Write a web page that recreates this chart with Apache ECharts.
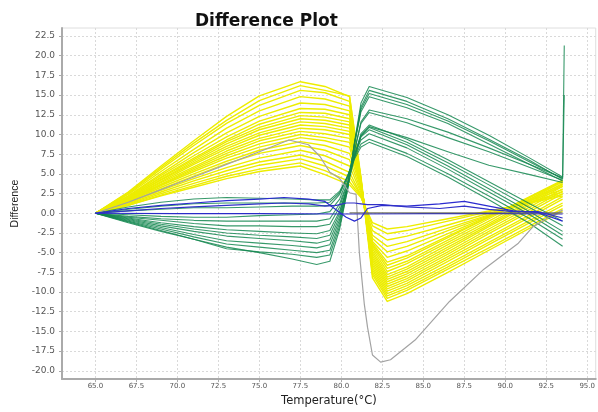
<!DOCTYPE html>
<html><head><meta charset="utf-8">
<script src="https://cdn.jsdelivr.net/npm/echarts@6/dist/echarts.min.js"></script>
<style>html,body{margin:0;padding:0;background:#fff}#c{width:598px;height:412px}</style>
</head><body><div id="c"></div>
<script>
// ---- tick labels ----
const xTicks = [65, 67.5, 70, 72.5, 75, 77.5, 80, 82.5, 85, 87.5, 90, 92.5, 95];
const yTicks = [-20, -17.5, -15, -12.5, -10, -7.5, -5, -2.5, 0, 2.5, 5, 7.5, 10, 12.5, 15, 17.5, 20, 22.5];

// ---- yellow curves (temperature grid + values) ----
const tempsY = [65, 67, 69, 71, 73, 75, 77.5, 79, 80.5, 81.2, 81.9, 82.8, 84, 86.5, 89, 91.5, 93.5];
const y01 = [0, 2.7, 6.0, 9.2, 12.3, 14.9, 16.7, 16.1, 14.8, 4.3, -8.2, -11.2, -10.2, -7.5, -4.7, -1.9, 0.3];
const y02 = [0, 2.6, 5.8, 8.9, 11.8, 14.3, 16.2, 15.6, 14.9, 4.6, -7.8, -10.8, -9.8, -7.1, -4.4, -1.6, 0.6];
const y03 = [0, 2.5, 5.6, 8.6, 11.4, 13.7, 15.6, 15.3, 14.2, 4.4, -7.5, -10.5, -9.5, -6.8, -4.0, -1.2, 1.0];
const y04 = [0, 2.4, 5.3, 8.1, 10.8, 13.0, 14.8, 14.5, 13.6, 4.2, -7.2, -10.2, -9.2, -6.5, -3.7, -0.9, 1.3];
const y05 = [0, 2.2, 5.0, 7.7, 10.2, 12.3, 14.0, 13.8, 13.0, 4.1, -6.9, -9.9, -8.9, -6.1, -3.3, -0.5, 1.8];
const y06 = [0, 2.1, 4.8, 7.3, 9.7, 11.7, 13.3, 13.2, 12.5, 4.0, -6.6, -9.6, -8.6, -5.8, -3.0, -0.2, 2.1];
const y07 = [0, 2.0, 4.6, 7.0, 9.3, 11.3, 12.8, 12.7, 12.0, 3.9, -6.3, -9.3, -8.3, -5.5, -2.6, 0.2, 2.5];
const y08 = [0, 2.0, 4.5, 6.8, 9.1, 10.9, 12.4, 12.2, 11.6, 3.8, -6.0, -9.0, -8.0, -5.2, -2.3, 0.5, 2.8];
const y09 = [0, 1.9, 4.3, 6.6, 8.8, 10.6, 12.0, 11.8, 11.2, 3.8, -5.7, -8.7, -7.7, -4.9, -2.0, 0.8, 3.1];
const y10 = [0, 1.9, 4.2, 6.4, 8.5, 10.2, 11.6, 11.4, 10.8, 3.7, -5.4, -8.4, -7.4, -4.6, -1.7, 1.1, 3.4];
const y11 = [0, 1.8, 4.0, 6.2, 8.2, 9.9, 11.2, 11.0, 10.4, 3.7, -5.1, -8.1, -7.1, -4.3, -1.5, 1.3, 3.6];
const y12 = [0, 1.7, 3.9, 5.9, 7.9, 9.5, 10.8, 10.6, 10.0, 3.6, -4.8, -7.8, -6.8, -4.0, -1.3, 1.5, 3.8];
const y13 = [0, 1.7, 3.7, 5.7, 7.6, 9.2, 10.4, 10.1, 9.5, 3.5, -4.5, -7.4, -6.4, -3.7, -1.0, 1.8, 4.0];
const y14 = [0, 1.6, 3.6, 5.5, 7.3, 8.8, 10.0, 9.6, 9.0, 3.5, -4.2, -7.0, -6.1, -3.4, -0.7, 2.0, 4.1];
const y15 = [0, 1.5, 3.5, 5.3, 7.0, 8.4, 9.6, 9.2, 8.4, 3.4, -4.0, -6.6, -5.7, -3.1, -0.5, 2.1, 4.2];
const y16 = [0, 1.5, 3.3, 5.0, 6.6, 8.0, 9.1, 8.6, 7.6, 3.2, -3.8, -6.2, -5.4, -2.9, -0.5, 2.0, 4.0];
const y17 = [0, 1.4, 3.1, 4.7, 6.3, 7.6, 8.6, 8.0, 6.8, 2.9, -3.6, -5.6, -4.8, -2.6, -0.4, 1.8, 3.7];
const y18 = [0, 1.3, 2.9, 4.4, 5.8, 7.0, 8.0, 7.3, 6.0, 2.6, -3.2, -4.9, -4.2, -2.2, -0.3, 1.7, 3.4];
const y19 = [0, 1.2, 2.7, 4.1, 5.4, 6.5, 7.4, 6.6, 5.2, 2.3, -2.8, -4.2, -3.6, -1.9, -0.2, 1.6, 3.0];
const y20 = [0, 1.1, 2.5, 3.8, 5.0, 6.1, 6.9, 6.0, 4.6, 2.2, -2.2, -3.4, -2.9, -1.5, 0.0, 1.4, 2.7];
const y21 = [0, 1.0, 2.3, 3.5, 4.7, 5.6, 6.4, 5.4, 4.0, 2.1, -1.6, -2.6, -2.2, -1.0, 0.2, 1.4, 2.4];
const y22 = [0, 1.0, 2.2, 3.3, 4.4, 5.3, 6.0, 4.9, 3.6, 2.0, -1.2, -2.0, -1.7, -0.7, 0.3, 1.3, 2.2];

// ---- green curves ----
const tempsG = [65, 67, 69, 71, 73, 75, 77, 78.5, 79.3, 79.9, 80.4, 80.8, 81.2, 81.7, 84, 86.5, 89, 91.5, 93.5];
const tempsGSpike = [65, 67, 69, 71, 73, 75, 77, 78.5, 79.3, 79.9, 80.4, 80.8, 81.2, 81.7, 84, 86.5, 89, 91.5, 93.5, 93.6];
const g01 = [0, -1.2, -2.3, -3.3, -4.3, -5.0, -5.8, -6.5, -6.1, -2.0, 3.2, 9.0, 14.0, 16.1, 14.7, 12.5, 9.9, 7.0, 4.6, 21.3];
const g02 = [0, -1.1, -2.2, -3.3, -4.5, -4.9, -5.2, -5.6, -5.3, -1.6, 3.2, 8.8, 13.5, 15.6, 14.2, 12.0, 9.4, 6.7, 4.3];
const g03 = [0, -1.0, -2.0, -3.0, -3.9, -4.3, -4.7, -5.0, -4.7, -1.2, 3.4, 8.8, 13.2, 15.2, 13.8, 11.7, 9.2, 6.5, 4.4, 15.0];
const g04 = [0, -0.9, -1.8, -2.7, -3.5, -3.8, -4.1, -4.4, -4.0, -0.8, 3.6, 8.7, 12.9, 14.8, 13.4, 11.4, 8.8, 6.2, 4.1];
const g05 = [0, -0.8, -1.6, -2.3, -2.9, -3.2, -3.5, -3.8, -3.4, -0.4, 3.5, 7.9, 11.6, 13.1, 12.0, 10.3, 8.3, 6.2, 4.5];
const g06 = [0, -0.7, -1.4, -2.0, -2.5, -2.8, -3.0, -3.2, -2.8, 0.0, 3.7, 7.9, 11.4, 12.8, 11.5, 9.6, 7.8, 5.8, 4.2];
const g07 = [0, -0.6, -1.2, -1.7, -2.1, -2.3, -2.5, -2.6, -2.2, 0.3, 3.5, 7.0, 9.8, 11.0, 9.6, 7.8, 6.1, 4.9, 3.9];
const g08 = [0, -0.5, -0.9, -1.3, -1.6, -1.6, -1.7, -1.7, -1.4, 0.8, 3.9, 7.3, 10.1, 11.2, 9.4, 6.8, 4.0, 1.2, -1.0];
const g09 = [0, -0.4, -0.7, -0.9, -1.0, -1.0, -1.0, -1.0, -0.7, 1.2, 4.1, 7.3, 9.9, 10.9, 9.0, 6.4, 3.6, 0.7, -1.6];
const g10 = [0, -0.2, -0.4, -0.5, -0.5, -0.3, -0.2, -0.1, 0.2, 1.8, 4.5, 7.4, 9.7, 10.6, 8.7, 6.0, 3.1, 0.2, -2.3];
const g11 = [0, 0.3, 0.5, 0.7, 0.7, 0.8, 0.9, 0.9, 1.0, 2.4, 4.8, 7.4, 9.3, 10.1, 8.3, 5.6, 2.7, -0.2, -2.8];
const g12 = [0, 0.5, 0.9, 1.2, 1.3, 1.3, 1.3, 1.3, 1.4, 2.6, 4.8, 7.1, 8.8, 9.4, 7.6, 5.0, 2.2, -0.7, -3.3];
const g13 = [0, 0.8, 1.4, 1.8, 2.0, 1.9, 1.8, 1.7, 1.7, 2.8, 4.8, 6.9, 8.4, 9.0, 7.2, 4.6, 1.7, -1.3, -4.2];

// ---- grey curve ----
const tempsGrey = [65, 67, 69, 71, 73, 75, 76.8, 78, 78.7, 79.3, 79.9, 80.5, 80.9, 81.1, 81.4, 81.6, 81.9, 82.4, 83, 84.5, 86.6, 88.7, 90.8, 91.7, 92.5, 93.5];
const grey = [0, 1.4, 3.0, 4.6, 6.2, 7.8, 9.3, 8.7, 7.2, 5.2, 4.4, 2.6, 2.4, -5.0, -11.5, -14.5, -18.0, -18.9, -18.6, -16.1, -11.2, -7.1, -3.8, -1.7, -0.7, 0.4];

// ---- blue curves ----
const tempsB = [65, 67, 69, 71, 73, 75, 76.5, 78, 79, 79.7, 80.3, 80.8, 81.2, 81.6, 82.5, 84, 86, 87.5, 89, 90.5, 92, 93.5];
const blue1 = [0, 0.6, 1.0, 1.3, 1.6, 1.8, 2.0, 1.8, 1.5, 0.4, -0.5, -1.0, -0.6, 0.6, 1.0, 0.9, 1.2, 1.5, 0.9, 0.3, 0.1, -1.0];
const blue2 = [0, 0.3, 0.6, 0.8, 1.0, 1.2, 1.3, 1.2, 0.9, 1.0, 1.3, 1.3, 1.2, 1.1, 1.1, 0.8, 0.6, 0.9, 0.5, 0.2, 0.2, -0.6];
const tempsFlat = [65, 70, 75, 80, 85, 90, 93.5];
const blue0 = [0, -0.05, -0.05, -0.1, -0.05, -0.05, -0.1];
const tempsOlive = [80.5, 85, 90, 93.5];
const olive = [0.05, 0.05, 0.05, 0.05];

const series = [];
function add(ts, vs, color, width, z, smooth) {
  series.push({
    type: 'line', data: ts.map((t, i) => [t, vs[i]]), showSymbol: false, symbol: 'none',
    smooth: smooth, lineStyle: { color: color, width: width, join: 'round' }, itemStyle: { color: color },
    silent: true, animation: false, z: z
  });
}
[y01, y02, y03, y04, y05, y06, y07, y08, y09, y10, y11, y12, y13, y14, y15, y16, y17, y18, y19, y20, y21, y22]
  .forEach(v => add(tempsY, v, '#eded00', 1.4, 2, false));
[g01, g03].forEach(v => add(tempsGSpike, v, 'rgba(20,135,80,0.85)', 1.1, 3, false));
[g02, g04, g05, g06, g07, g08, g09, g10, g11, g12, g13].forEach(v => add(tempsG, v, 'rgba(20,135,80,0.85)', 1.1, 3, false));
add(tempsGrey, grey, '#a3a3a3', 1.2, 4, false);
add(tempsFlat, blue0, '#2b2bc8', 1.2, 5, false);
add(tempsOlive, olive, '#6e6e55', 1, 5, false);
add(tempsB, blue1, '#2b2bd0', 1.2, 5, false);
add(tempsB, blue2, '#3030c8', 1.2, 5, false);

const chart = echarts.init(document.getElementById('c'), null, { renderer: 'canvas' });
chart.setOption({
  animation: false,
  backgroundColor: '#fff',
  title: {
    text: 'Difference Plot', left: 190, top: 8,
    textStyle: { fontFamily: 'DejaVu Sans', fontWeight: 'bold', fontSize: 17, color: '#111' }
  },
  grid: { left: 62, right: 1, top: 28, bottom: 22, show: true, borderColor: '#dedede', borderWidth: 1 },
  xAxis: {
    type: 'value', min: 62.96, max: 95.52,
    name: 'Temperature(°C)', nameLocation: 'middle', nameGap: 10,
    nameTextStyle: { fontFamily: 'DejaVu Sans', fontSize: 11.5, color: '#222' },
    axisLine: { show: true, onZero: false, lineStyle: { color: '#aaaaaa', width: 2 } },
    axisTick: { show: true, customValues: xTicks, length: 3, lineStyle: { color: '#aaa' } },
    axisLabel: { customValues: xTicks, formatter: v => Number(v).toFixed(1), fontFamily: 'DejaVu Sans', fontSize: 7, color: '#555', margin: 4 },
    splitLine: { show: true, lineStyle: { type: [2, 2], color: '#d9d9d9', width: 1 } }
  },
  yAxis: {
    type: 'value', min: -21.06, max: 23.52,
    name: 'Difference', nameLocation: 'middle', nameGap: 40,
    nameTextStyle: { fontFamily: 'Liberation Sans', fontSize: 10.5, color: '#222' },
    axisLine: { show: true, onZero: false, lineStyle: { color: '#aaaaaa', width: 2 } },
    axisTick: { show: true, customValues: yTicks, length: 3, lineStyle: { color: '#aaa' } },
    axisLabel: { customValues: yTicks, formatter: v => Number(v).toFixed(1), fontFamily: 'DejaVu Sans', fontSize: 9, color: '#555', margin: 7 },
    splitLine: { show: true, lineStyle: { type: [2, 2], color: '#d9d9d9', width: 1 } }
  },
  series: series
});
</script></body></html>
